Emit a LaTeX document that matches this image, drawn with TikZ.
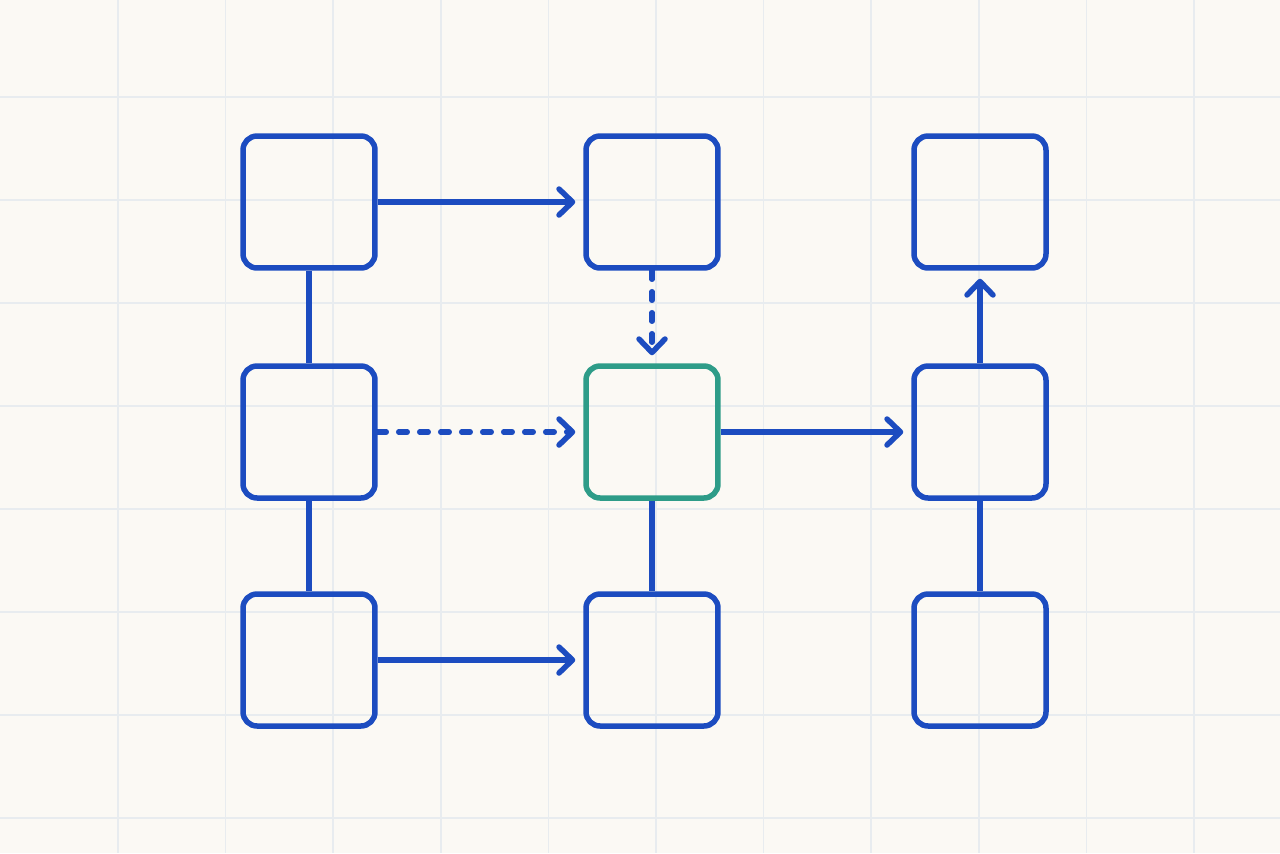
\documentclass[tikz,border=0pt]{standalone}
\usepackage{amsmath}
\usepackage{tikz}
\usetikzlibrary{arrows.meta}

\definecolor{paper}{HTML}{FBF9F4}
\definecolor{gridblue}{HTML}{E8ECEF}
\definecolor{boxblue}{HTML}{1C4CC0}
\definecolor{boxteal}{HTML}{2E9C88}

\begin{document}
\begin{tikzpicture}[x=0.02cm,y=-0.02cm,
	box/.style={shape=rectangle,draw=boxblue,line width=0.11cm,rounded corners=0.28cm,minimum width=2.64cm,minimum height=2.64cm,inner sep=0pt},
	link/.style={draw=boxblue,line width=0.11cm},
	flow/.style={link,-{Straight Barb[length=0.27cm,width=0.52cm,round]},shorten >=0.16cm},
	hint/.style={flow,dash pattern=on 0.17cm off 0.25cm,line cap=round}]
	\useasboundingbox (0,0) rectangle (1280,853);
	\fill[paper] (0,0) rectangle (1280,853);
	\foreach \x in {0,...,10}
		\draw[gridblue,line width=0.03cm] (118+107.6*\x,0) -- (118+107.6*\x,853);
	\foreach \y in {0,...,7}
		\draw[gridblue,line width=0.03cm] (0,97+103*\y) -- (1280,97+103*\y);

	\node[box] (1) at (309,202) {};
	\node[box] (2) at (652,202) {};
	\node[box] (3) at (980,202) {};
	\node[box] (4) at (309,432) {};
	\node[box,draw=boxteal] (5) at (652,432) {};
	\node[box] (6) at (980,432) {};
	\node[box] (7) at (309,660) {};
	\node[box] (8) at (652,660) {};
	\node[box] (9) at (980,660) {};

	\path [link] (1) edge (4);
	\path [link] (4) edge (7);
	\path [link] (5) edge (8);
	\path [link] (6) edge (9);
	\path [flow] (1) edge (2);
	\path [flow] (5) edge (6);
	\path [flow] (6) edge (3);
	\path [flow] (7) edge (8);
	\path [hint] (2) edge (5);
	\path [hint] (4) edge (5);
\end{tikzpicture}
\end{document}
